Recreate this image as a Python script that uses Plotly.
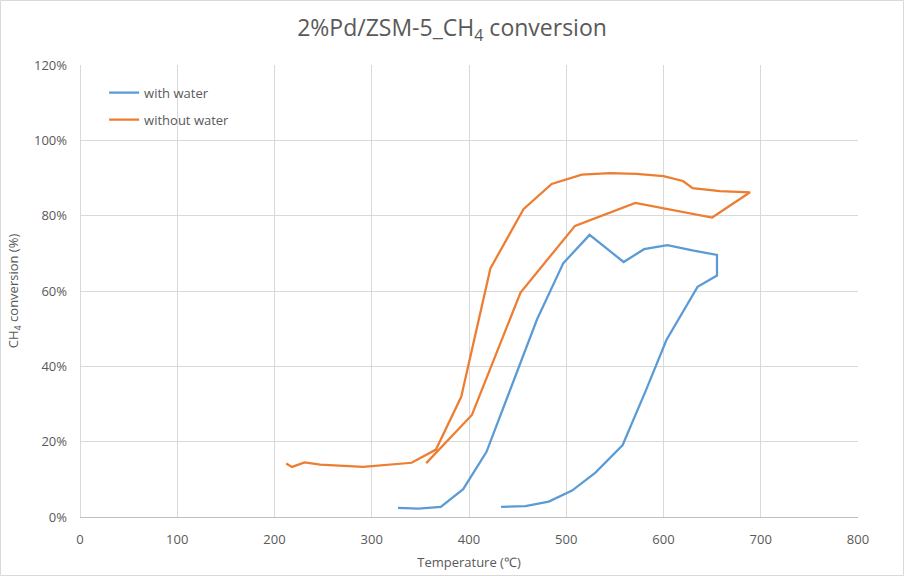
import plotly.graph_objects as go

# with water (heating up then cooling down path)
with_water_T = [327, 348, 371, 394, 418, 470, 497, 524, 559, 580, 604, 631, 655,
                655, 635, 603, 582, 558, 530, 506, 482, 458, 433]
with_water_conv = [0.024, 0.022, 0.027, 0.074, 0.173, 0.525, 0.674, 0.749, 0.677, 0.711, 0.722, 0.707, 0.696,
                   0.641, 0.611, 0.470, 0.337, 0.191, 0.118, 0.070, 0.041, 0.029, 0.027]

# without water
without_water_T = [212, 218, 231, 247, 291, 341, 366, 392, 422, 456, 485, 516, 545, 572, 600, 620, 630, 658, 689,
                   650, 571, 509, 453, 403, 356]
without_water_conv = [0.142, 0.133, 0.145, 0.139, 0.133, 0.144, 0.179, 0.319, 0.660, 0.817, 0.884, 0.909, 0.913,
                      0.911, 0.905, 0.892, 0.873, 0.865, 0.862,
                      0.795, 0.834, 0.773, 0.596, 0.271, 0.143]

GRAY = "#595959"
GRID = "#d9d9d9"
FONT = "Open Sans"

fig = go.Figure()
fig.add_trace(go.Scatter(x=with_water_T, y=with_water_conv, mode="lines", name="with water",
                         legendgroup="a", line=dict(color="#5B9BD5", width=2.25)))
fig.add_trace(go.Scatter(x=without_water_T, y=without_water_conv, mode="lines", name="without water",
                         legendgroup="b", line=dict(color="#ED7D31", width=2.25)))

fig.update_layout(
    width=904, height=576,
    margin=dict(l=80, r=46, t=65, b=59, autoexpand=False),
    paper_bgcolor="white", plot_bgcolor="white",
    font=dict(family=FONT, color=GRAY, size=13),
    title=dict(text="2%Pd/ZSM-5_CH<sub>4</sub> conversion", x=0.5, xanchor="center",
               y=1 - 28 / 576, yanchor="middle", font=dict(size=23, color=GRAY, family=FONT)),
    legend=dict(x=0.031, y=0.972, xanchor="left", yanchor="top", bgcolor="rgba(0,0,0,0)",
                font=dict(size=13, color=GRAY), tracegroupgap=7, itemwidth=30),
    showlegend=True,
)
fig.update_xaxes(range=[0, 800], dtick=100, tick0=0, showgrid=True, gridcolor=GRID, gridwidth=1,
                 zeroline=True, zerolinecolor=GRID, zerolinewidth=1,
                 showline=True, linecolor="#bfbfbf", linewidth=1, ticks="",
                 ticklabelstandoff=10,
                 tickfont=dict(size=13, color=GRAY),
                 title=dict(text="Temperature (℃)", font=dict(size=13, color=GRAY), standoff=11))
fig.update_yaxes(range=[0, 1.2], dtick=0.2, tick0=0, tickformat=".0%", showgrid=True, gridcolor=GRID,
                 gridwidth=1, zeroline=False, showline=False, ticks="",
                 ticklabelstandoff=12,
                 tickfont=dict(size=13, color=GRAY),
                 title=dict(text="CH<sub>4</sub> conversion (%)", font=dict(size=13, color=GRAY), standoff=12))

# outer chart border
fig.add_shape(type="rect", xref="paper", yref="paper",
              x0=-79.5 / 778, x1=823.5 / 778, y0=-58.5 / 452, y1=516.5 / 452,
              line=dict(color=GRID, width=1), fillcolor="rgba(0,0,0,0)", layer="below")

fig.write_html("out.html", config={"displayModeBar": False},
               post_script="document.body.style.margin='0px';")
